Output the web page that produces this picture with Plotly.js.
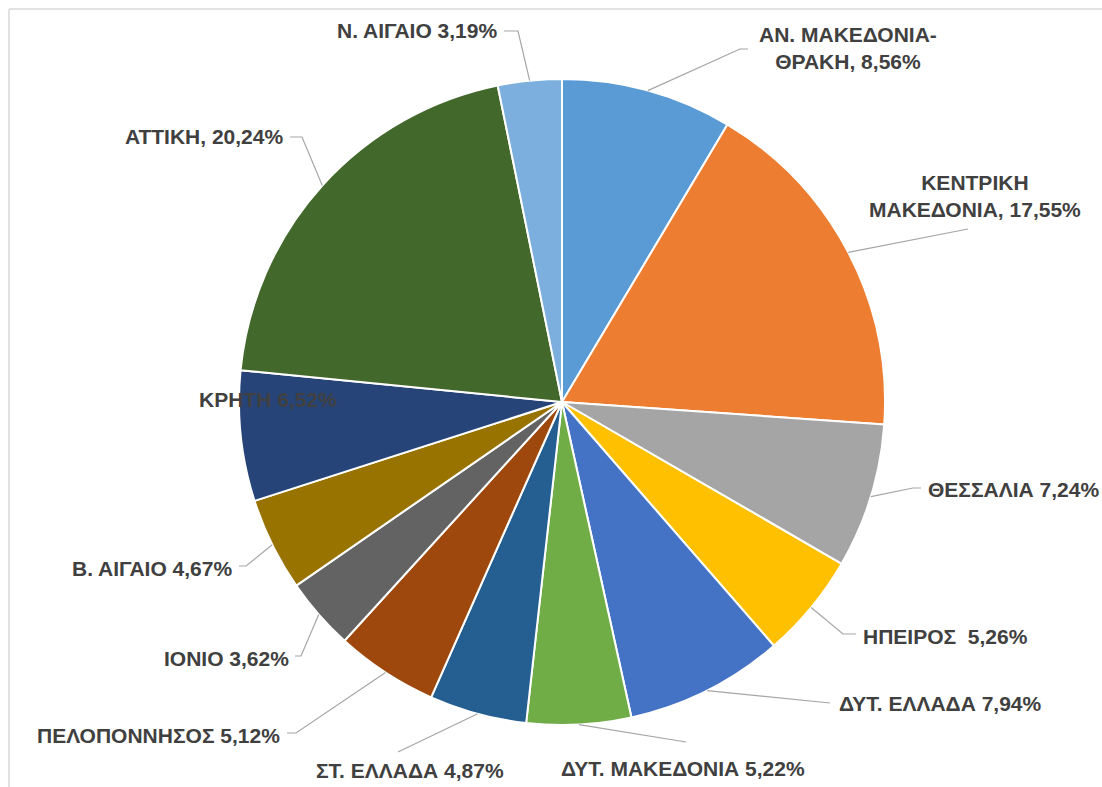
<!DOCTYPE html>
<html>
<head>
<meta charset="utf-8">
<script src="https://cdn.plot.ly/plotly-3.0.1.min.js"></script>
<style>
  html, body { margin: 0; padding: 0; background: #ffffff; }
  #chart { width: 1102px; height: 787px; }
</style>
</head>
<body>
<div id="chart"></div>
<script>
// ---- Data ----
const regions = [
  ["ΑΝ. ΜΑΚΕΔΟΝΙΑ-", "ΘΡΑΚΗ"],
  ["ΚΕΝΤΡΙΚΗ", "ΜΑΚΕΔΟΝΙΑ"],
  ["ΘΕΣΣΑΛΙΑ"],
  ["ΗΠΕΙΡΟΣ"],
  ["ΔΥΤ. ΕΛΛΑΔΑ"],
  ["ΔΥΤ. ΜΑΚΕΔΟΝΙΑ"],
  ["ΣΤ. ΕΛΛΑΔΑ"],
  ["ΠΕΛΟΠΟΝΝΗΣΟΣ"],
  ["ΙΟΝΙΟ"],
  ["Β. ΑΙΓΑΙΟ"],
  ["ΚΡΗΤΗ"],
  ["ΑΤΤΙΚΗ"],
  ["Ν. ΑΙΓΑΙΟ"]
];
const shares = [8.56, 17.55, 7.24, 5.26, 7.94, 5.22, 4.87, 5.12, 3.62, 4.67, 6.52, 20.24, 3.19];
const separators = [", ", ", ", " ", "  ", " ", " ", " ", " ", " ", " ", " ", ", ", " "];

// ---- Styles / layout config ----
const colors = ["#5B9BD5", "#ED7D31", "#A5A5A5", "#FFC000", "#4472C4", "#70AD47",
                "#255E91", "#9E480E", "#636363", "#997300", "#264478", "#43682B", "#7CAFDD"];
const W = 1102, H = 787;
const CX = 562, CY = 402, R = 323;
// label placement in pixels: [textX, textY, xanchor, elbowX, elbowY, endX, endY]
const labelPlace = [
  [848, 48, "center", 740, 49, 748, 49],
  [975, 196, "center", 968, 229, 968, 229],
  [926, 489, "left", 913, 488, 921, 488],
  [861, 636, "left", 843, 634, 856, 634],
  [837, 703, "left", 830, 703, 830, 703],
  [683, 768, "center", 686, 742, 686, 742],
  [410, 770, "center", 398, 752, 398, 752],
  [282, 735, "right", 296, 733, 287, 733],
  [291, 658, "right", 301, 656, 295, 656],
  [234, 568, "right", 246, 566, 239, 566],
  [268, 399, "center", null, null, null, null],
  [285, 136, "right", 302, 137, 290, 137],
  [499, 30, "right", 518, 31, 504, 31]
];

const px = x => x / W;
const py = y => 1 - y / H;
const fmt = v => v.toFixed(2).replace(".", ",") + "%";

const total = shares.reduce((a, b) => a + b, 0);
const annotations = [];
const shapes = [];
let cum = 0;
shares.forEach((v, i) => {
  const mid = (cum + v / 2) / total * 2 * Math.PI;
  cum += v;
  const ex = CX + R * Math.sin(mid), ey = CY - R * Math.cos(mid);
  const p = labelPlace[i];
  const name = regions[i];
  let text;
  if (name.length > 1) text = name[0] + "<br>" + name[1] + separators[i] + fmt(v);
  else text = name[0] + separators[i] + fmt(v);
  annotations.push({
    x: px(p[0]), y: py(p[1]), xref: "paper", yref: "paper",
    xanchor: p[2], yanchor: "middle", showarrow: false, align: "center",
    text: text,
    font: { family: "Liberation Sans, Arial, sans-serif", size: 21, color: "#404040", weight: "bold" }
  });
  if (p[3] !== null) {
    shapes.push({
      type: "path", xref: "paper", yref: "paper",
      path: `M ${px(ex)} ${py(ey)} L ${px(p[3])} ${py(p[4])} L ${px(p[5])} ${py(p[6])}`,
      line: { color: "#A6A6A6", width: 1.2 }
    });
  }
});

// chart area border (top & left visible)
shapes.push({ type: "line", xref: "paper", yref: "paper", x0: px(9), y0: py(9), x1: px(1110), y1: py(9),
  line: { color: "#D9D9D9", width: 1.5 } });
shapes.push({ type: "line", xref: "paper", yref: "paper", x0: px(9), y0: py(9), x1: px(9), y1: py(800),
  line: { color: "#D9D9D9", width: 1.5 } });

const trace = {
  type: "pie",
  labels: regions.map(r => r.join(" ")),
  values: shares,
  sort: false,
  direction: "clockwise",
  rotation: 0,
  textinfo: "none",
  hoverinfo: "label+percent",
  marker: { colors: colors, line: { color: "#ffffff", width: 2 } },
  domain: { x: [px(CX - R), px(CX + R)], y: [py(CY + R), py(CY - R)] },
  showlegend: false
};

const layout = {
  width: W, height: H,
  margin: { l: 0, r: 0, t: 0, b: 0 },
  paper_bgcolor: "#ffffff",
  plot_bgcolor: "#ffffff",
  showlegend: false,
  annotations: annotations,
  shapes: shapes
};

Plotly.newPlot("chart", [trace], layout, { displayModeBar: false, staticPlot: true });
</script>
</body>
</html>
